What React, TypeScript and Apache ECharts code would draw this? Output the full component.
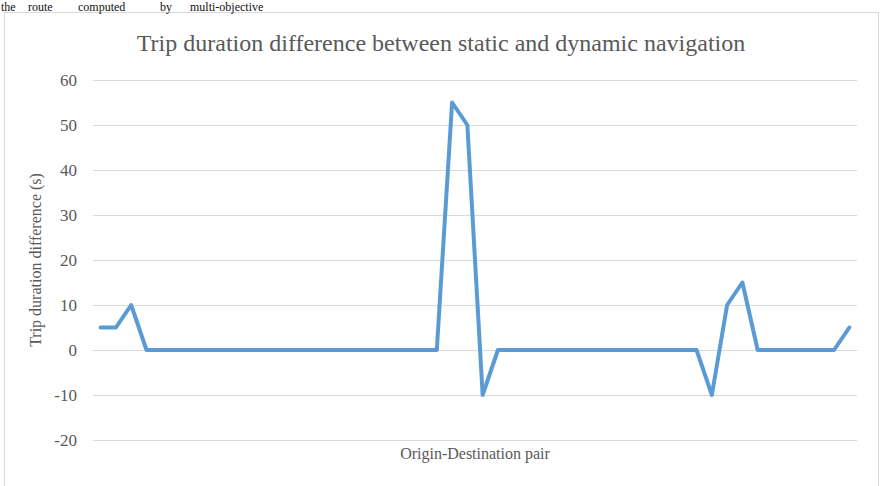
import React, { useEffect, useRef } from "react";
import * as echarts from "echarts";

const categories: string[] = Array.from({ length: 50 }, (_, i) => `OD ${i + 1}`);
const durationDiff: number[] = [
  5, 5, 10, 0, 0, 0, 0, 0, 0, 0,
  0, 0, 0, 0, 0, 0, 0, 0, 0, 0,
  0, 0, 0, 55, 50, -10, 0, 0, 0, 0,
  0, 0, 0, 0, 0, 0, 0, 0, 0, 0,
  -10, 10, 15, 0, 0, 0, 0, 0, 0, 5,
];
const titleText = "Trip duration difference between static and dynamic navigation";
const yAxisName = "Trip duration difference (s)";
const xAxisName = "Origin-Destination pair";
const topFragments: { text: string; x: number }[] = [
  { text: "the", x: 1 },
  { text: "route", x: 28 },
  { text: "computed", x: 78 },
  { text: "by", x: 160 },
  { text: "multi-objective", x: 190 },
];

const FONT = "'Liberation Serif', 'Times New Roman', serif";

export default function App() {
  const ref = useRef<HTMLDivElement>(null);
  useEffect(() => {
    if (!ref.current) return;
    const chart = echarts.init(ref.current, undefined, { renderer: "svg" });
    chart.setOption({
      animation: false,
      backgroundColor: "#ffffff",
      title: {
        text: titleText,
        left: "center",
        top: 26,
        textStyle: { fontFamily: FONT, fontSize: 24, fontWeight: "normal", color: "#595959" },
      },
      graphic: [
        {
          type: "rect",
          shape: { x: 4.5, y: 12.5, width: 874, height: 500 },
          style: { fill: "none", stroke: "#D9D9D9", lineWidth: 1 },
          z: -10,
        },
        ...topFragments.map((f) => ({
          type: "text",
          x: f.x,
          y: 1,
          style: {
            text: f.text,
            font: `12px ${FONT}`,
            fill: "#111111",
            textVerticalAlign: "top",
          },
        })),
      ],
      grid: { left: 93, right: 25, top: 80, bottom: 46 },
      xAxis: {
        type: "category",
        data: categories,
        boundaryGap: true,
        axisLabel: { show: false },
        axisTick: { show: false },
        axisLine: { show: true, lineStyle: { color: "#D9D9D9", width: 1 } },
        name: xAxisName,
        nameLocation: "middle",
        nameGap: 5,
        nameTextStyle: { fontFamily: FONT, fontSize: 16, color: "#595959" },
      },
      yAxis: {
        type: "value",
        min: -20,
        max: 60,
        interval: 10,
        axisLabel: { fontFamily: FONT, fontSize: 17, color: "#595959", margin: 16 },
        axisLine: { show: false },
        axisTick: { show: false },
        splitLine: { lineStyle: { color: "#D9D9D9", width: 1 } },
        name: yAxisName,
        nameLocation: "middle",
        nameGap: 46,
        nameRotate: 90,
        nameTextStyle: { fontFamily: FONT, fontSize: 16, color: "#595959" },
      },
      series: [
        {
          type: "line",
          data: durationDiff,
          symbol: "none",
          lineStyle: { color: "#5B9BD5", width: 4, join: "round", cap: "round" },
          itemStyle: { color: "#5B9BD5" },
        },
      ],
    });
    return () => chart.dispose();
  }, []);
  return (
    <div
      ref={ref}
      style={{ position: "fixed", left: 0, top: 0, width: 882, height: 486 }}
    />
  );
}
